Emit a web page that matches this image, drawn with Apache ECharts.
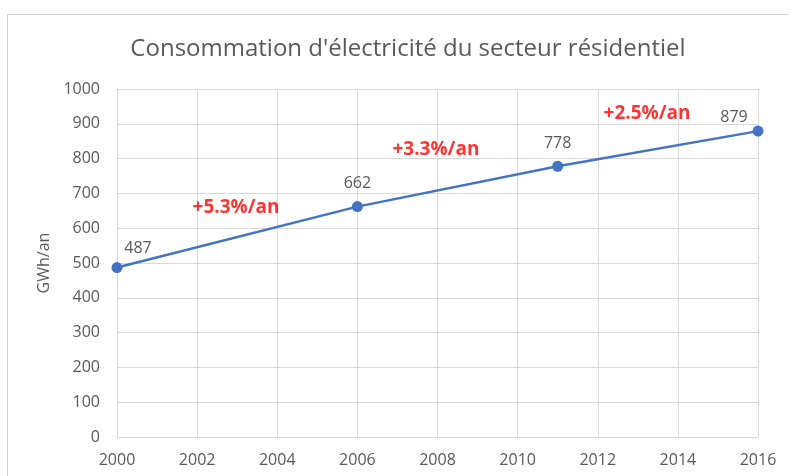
<!DOCTYPE html>
<html>
<head>
<meta charset="utf-8">
<script src="https://cdn.jsdelivr.net/npm/echarts@6/dist/echarts.min.js"></script>
<style>
    html, body { margin: 0; padding: 0; background: #fff; }
    #chart { width: 790px; height: 476px; }
</style>
</head>
<body>
<div id="chart"></div>
<script>
// données
const years = [2000, 2006, 2011, 2016];
const values = [487, 662, 778, 879];
const rateLabels = ['+5.3%/an', '+3.3%/an', '+2.5%/an'];
const ratePos = [[2002.97, 660], [2007.96, 826], [2013.23, 928]];

// décalage des étiquettes de valeur (px)
const labelOffsets = [[21, 4], [0, 0], [0, 1], [-24, 10]];

const font = '"Open Sans", "Liberation Sans", sans-serif';
const grey = '#595959';

let myChart = echarts.init(document.getElementById('chart'));

let lineData = years.map((y, i) => ({
    value: [y, values[i]],
    label: { offset: labelOffsets[i] }
}));

let rateData = ratePos.map((p, i) => ({
    value: p,
    name: rateLabels[i]
}));

let option = {
    animation: false,
    backgroundColor: '#fff',
    title: {
        text: "Consommation d'électricité du secteur résidentiel",
        left: 403,
        textAlign: 'center',
        top: 32,
        textStyle: {
            fontFamily: font,
            fontSize: 24,
            fontWeight: 'normal',
            color: grey
        }
    },
    graphic: [
        {
            type: 'polyline',
            shape: { points: [[7.5, 476], [7.5, 14.5], [788, 14.5]] },
            style: { stroke: '#d0d0d0', fill: null, lineWidth: 1 },
            silent: true
        }
    ],
    grid: {
        left: 117,
        right: 32,
        top: 89,
        bottom: 39
    },
    xAxis: {
        type: 'value',
        min: 2000,
        max: 2016,
        interval: 2,
        axisLine: { show: true, lineStyle: { color: '#d9d9d9' } },
        axisTick: { show: false },
        splitLine: { show: true, lineStyle: { color: '#d9d9d9', width: 1 } },
        axisLabel: {
            formatter: v => String(v),
            color: grey,
            fontFamily: font,
            fontSize: 16,
            margin: 15
        }
    },
    yAxis: {
        type: 'value',
        min: 0,
        max: 1000,
        interval: 100,
        name: 'GWh/an',
        nameLocation: 'middle',
        nameGap: 60,
        nameTextStyle: {
            color: grey,
            fontFamily: font,
            fontSize: 16
        },
        axisLine: { show: true, lineStyle: { color: '#d9d9d9' } },
        axisTick: { show: false },
        splitLine: { show: true, lineStyle: { color: '#d9d9d9', width: 1 } },
        axisLabel: {
            formatter: v => String(v),
            color: grey,
            fontFamily: font,
            fontSize: 16,
            margin: 17
        }
    },
    series: [
        {
            name: 'conso',
            type: 'line',
            data: lineData,
            symbol: 'circle',
            symbolSize: 11,
            lineStyle: { color: '#4472C4', width: 2.5 },
            itemStyle: { color: '#4472C4' },
            label: {
                show: true,
                position: 'top',
                distance: 10,
                color: grey,
                fontFamily: font,
                fontSize: 16
            },
            z: 3
        },
        {
            name: 'taux',
            type: 'scatter',
            data: rateData,
            symbolSize: 0,
            label: {
                show: true,
                position: 'inside',
                formatter: '{b}',
                color: '#ff0000',
                fontFamily: font,
                fontSize: 19,
                fontWeight: 'bold'
            },
            z: 4
        }
    ]
};
myChart.setOption(option);
</script>
</body>
</html>
